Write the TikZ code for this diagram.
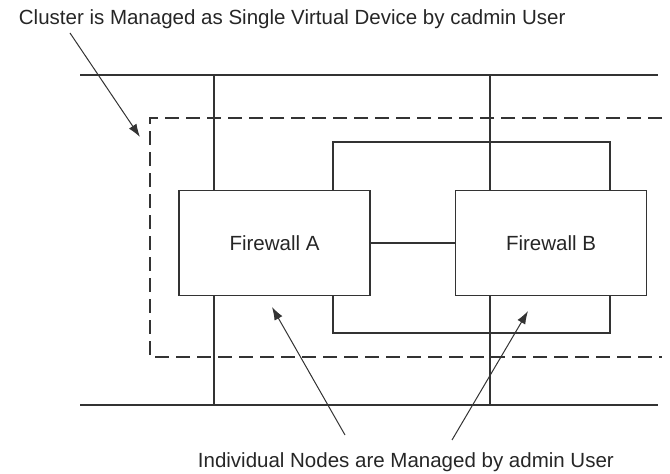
\documentclass[tikz,border=0pt]{standalone}
\usepackage{fontspec}
\setmainfont{Liberation Sans}
\usetikzlibrary{arrows.meta}
\begin{document}
\begin{tikzpicture}[x=1bp, y=-1bp, line width=1.2bp, color=black!80,
	fw/.style={draw, minimum width=191bp, minimum height=105bp, inner sep=0pt},
	cluster/.style={dash pattern=on 14bp off 7bp},
	pointer/.style={line width=1bp, -{Latex[length=13bp, width=9bp]}},
	every node/.style={font=\fontsize{20.5bp}{24bp}\selectfont, text=black!85}]
	\useasboundingbox (0,0) rectangle (670,474);
	
	\node[anchor=base west] (title) at (15,25) {Cluster is Managed as Single Virtual Device by cadmin User};
	\node[anchor=base west] (note) at (194,467.5) {Individual Nodes are Managed by admin User};
	
	\node[fw] (fwA) at (274.5,243) {Firewall A};
	\node[fw] (fwB) at (551,243) {Firewall B};
	
	\coordinate (topL) at (80,75);
	\coordinate (topR) at (658,75);
	\coordinate (botL) at (80,405);
	\coordinate (botR) at (658,405);
	\draw (topL) -- (topR);
	\draw (botL) -- (botR);
	
	\coordinate (aTop) at (214,75);
	\coordinate (aBot) at (214,405);
	\coordinate (bTop) at (490,75);
	\coordinate (bBot) at (490,405);
	\draw (aTop) -- (aTop |- fwA.north);
	\draw (fwA.south -| aBot) -- (aBot);
	\draw (bTop) -- (bTop |- fwB.north);
	\draw (fwB.south -| bBot) -- (bBot);
	
	\draw (fwA.east) -- (fwB.west);
	\coordinate (loopNW) at (333,142);
	\coordinate (loopSE) at (610,333);
	\draw (loopNW |- fwA.north) -- (loopNW) -| (loopSE |- fwB.north);
	\draw (loopNW |- fwA.south) -- (loopNW |- loopSE) -| (loopSE |- fwB.south);
	
	\coordinate (dashNE) at (662,118);
	\coordinate (dashSW) at (150,357);
	\draw[cluster] (dashNE) -| (dashSW) -- (dashSW -| dashNE);
	
	\coordinate (p1) at (70,33);
	\coordinate (q1) at (140,137);
	\coordinate (p2) at (345,435);
	\coordinate (q2) at (272,307);
	\coordinate (p3) at (452,440);
	\coordinate (q3) at (528,311);
	\draw[pointer] (p1) -- (q1);
	\draw[pointer] (p2) -- (q2);
	\draw[pointer] (p3) -- (q3);
\end{tikzpicture}
\end{document}
